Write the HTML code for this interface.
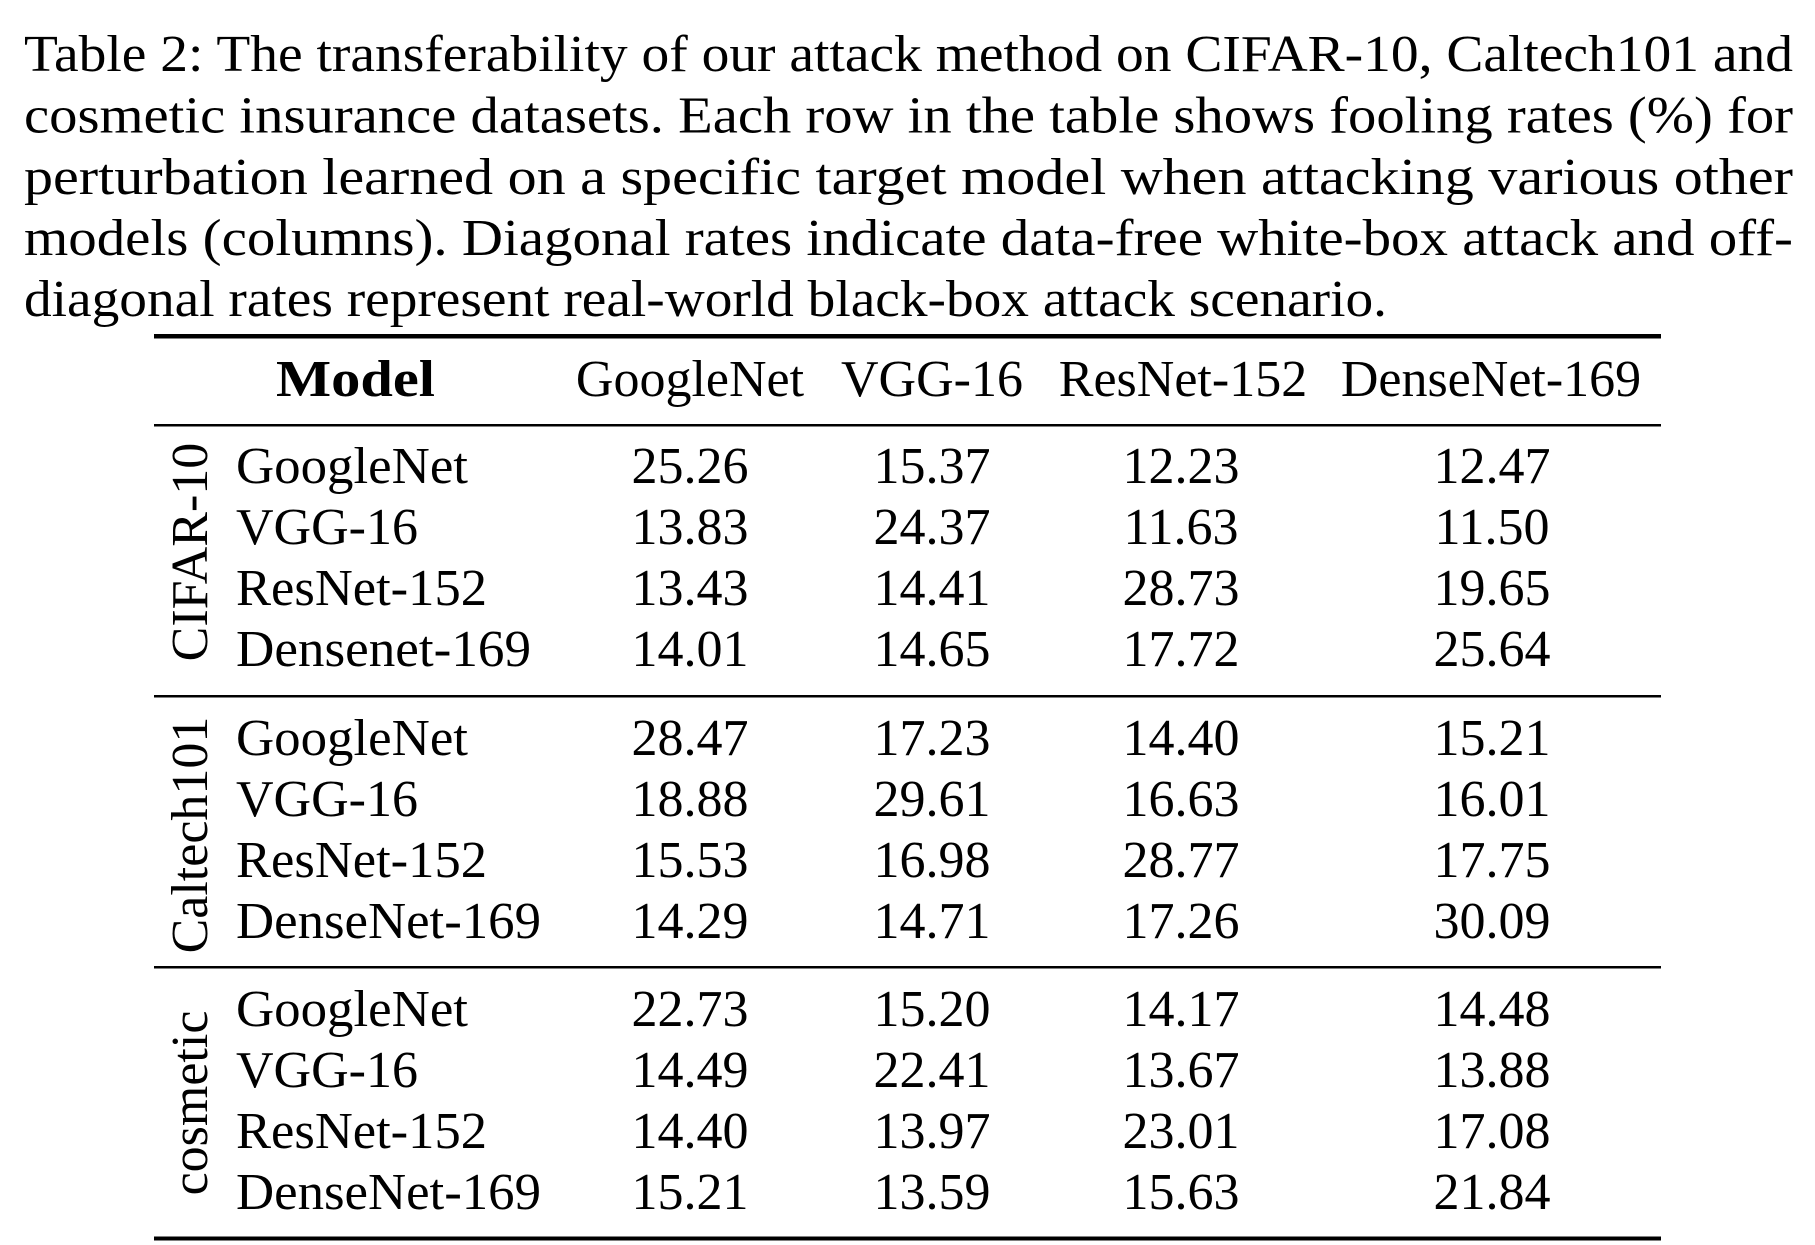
<!DOCTYPE html>
<html>
<head>
<meta charset="utf-8">
<style>
  html, body { margin: 0; padding: 0; background: #ffffff; }
  body { width: 1815px; height: 1245px; overflow: hidden; }
  svg { display: block; }
  text { font-family: "Liberation Serif", "DejaVu Serif", serif; fill: #000; }
</style>
</head>
<body>
<svg width="1815" height="1245" viewBox="0 0 1815 1245" xmlns="http://www.w3.org/2000/svg">
  <rect x="0" y="0" width="1815" height="1245" fill="#ffffff"/>

  <!-- Caption -->
  <g font-size="52">
    <text x="24" y="71" textLength="1769" lengthAdjust="spacingAndGlyphs">Table 2: The transferability of our attack method on CIFAR-10, Caltech101 and</text>
    <text x="24" y="132.5" textLength="1769" lengthAdjust="spacingAndGlyphs">cosmetic insurance datasets. Each row in the table shows fooling rates (%) for</text>
    <text x="24" y="194" textLength="1769" lengthAdjust="spacingAndGlyphs">perturbation learned on a specific target model when attacking various other</text>
    <text x="24" y="255" textLength="1769" lengthAdjust="spacingAndGlyphs">models (columns). Diagonal rates indicate data-free white-box attack and off-</text>
    <text x="24" y="316" textLength="1363" lengthAdjust="spacingAndGlyphs">diagonal rates represent real-world black-box attack scenario.</text>
  </g>

  <!-- Rules -->
  <rect x="154" y="334" width="1507" height="4.5" fill="#000"/>
  <rect x="154" y="424" width="1507" height="2.5" fill="#000"/>
  <rect x="154" y="695" width="1507" height="2.5" fill="#000"/>
  <rect x="154" y="966" width="1507" height="2.5" fill="#000"/>
  <rect x="154" y="1236.5" width="1507" height="4" fill="#000"/>

  <!-- Header -->
  <g font-size="52">
    <text x="276" y="396" font-weight="bold" textLength="159" lengthAdjust="spacingAndGlyphs">Model</text>
    <text x="690" y="396" text-anchor="middle">GoogleNet</text>
    <text x="932" y="396" text-anchor="middle">VGG-16</text>
    <text x="1183" y="396" text-anchor="middle">ResNet-152</text>
    <text x="1491" y="396" text-anchor="middle">DenseNet-169</text>
  </g>

  <!-- Rotated group labels -->
  <g font-size="52">
    <text transform="translate(207,552) rotate(-90)" text-anchor="middle">CIFAR-10</text>
    <text transform="translate(207,835) rotate(-90)" text-anchor="middle">Caltech101</text>
    <text transform="translate(207,1103) rotate(-90)" text-anchor="middle">cosmetic</text>
  </g>

  <!-- Row labels -->
  <g font-size="52">
    <text x="236" y="483" textLength="232" lengthAdjust="spacingAndGlyphs">GoogleNet</text>
    <text x="236" y="544">VGG-16</text>
    <text x="236" y="605" textLength="251" lengthAdjust="spacingAndGlyphs">ResNet-152</text>
    <text x="236" y="666" textLength="295" lengthAdjust="spacingAndGlyphs">Densenet-169</text>

    <text x="236" y="755" textLength="232" lengthAdjust="spacingAndGlyphs">GoogleNet</text>
    <text x="236" y="816">VGG-16</text>
    <text x="236" y="877" textLength="251" lengthAdjust="spacingAndGlyphs">ResNet-152</text>
    <text x="236" y="938" textLength="305" lengthAdjust="spacingAndGlyphs">DenseNet-169</text>

    <text x="236" y="1026" textLength="232" lengthAdjust="spacingAndGlyphs">GoogleNet</text>
    <text x="236" y="1087">VGG-16</text>
    <text x="236" y="1148" textLength="251" lengthAdjust="spacingAndGlyphs">ResNet-152</text>
    <text x="236" y="1209" textLength="305" lengthAdjust="spacingAndGlyphs">DenseNet-169</text>
  </g>

  <!-- Numbers -->
  <g font-size="52" text-anchor="middle">
    <!-- CIFAR-10 -->
    <text x="690" y="483">25.26</text>
    <text x="932" y="483">15.37</text>
    <text x="1181" y="483">12.23</text>
    <text x="1492" y="483">12.47</text>

    <text x="690" y="544">13.83</text>
    <text x="932" y="544">24.37</text>
    <text x="1181" y="544">11.63</text>
    <text x="1492" y="544">11.50</text>

    <text x="690" y="605">13.43</text>
    <text x="932" y="605">14.41</text>
    <text x="1181" y="605">28.73</text>
    <text x="1492" y="605">19.65</text>

    <text x="690" y="666">14.01</text>
    <text x="932" y="666">14.65</text>
    <text x="1181" y="666">17.72</text>
    <text x="1492" y="666">25.64</text>

    <!-- Caltech101 -->
    <text x="690" y="755">28.47</text>
    <text x="932" y="755">17.23</text>
    <text x="1181" y="755">14.40</text>
    <text x="1492" y="755">15.21</text>

    <text x="690" y="816">18.88</text>
    <text x="932" y="816">29.61</text>
    <text x="1181" y="816">16.63</text>
    <text x="1492" y="816">16.01</text>

    <text x="690" y="877">15.53</text>
    <text x="932" y="877">16.98</text>
    <text x="1181" y="877">28.77</text>
    <text x="1492" y="877">17.75</text>

    <text x="690" y="938">14.29</text>
    <text x="932" y="938">14.71</text>
    <text x="1181" y="938">17.26</text>
    <text x="1492" y="938">30.09</text>

    <!-- cosmetic -->
    <text x="690" y="1026">22.73</text>
    <text x="932" y="1026">15.20</text>
    <text x="1181" y="1026">14.17</text>
    <text x="1492" y="1026">14.48</text>

    <text x="690" y="1087">14.49</text>
    <text x="932" y="1087">22.41</text>
    <text x="1181" y="1087">13.67</text>
    <text x="1492" y="1087">13.88</text>

    <text x="690" y="1148">14.40</text>
    <text x="932" y="1148">13.97</text>
    <text x="1181" y="1148">23.01</text>
    <text x="1492" y="1148">17.08</text>

    <text x="690" y="1209">15.21</text>
    <text x="932" y="1209">13.59</text>
    <text x="1181" y="1209">15.63</text>
    <text x="1492" y="1209">21.84</text>
  </g>
</svg>
</body>
</html>
